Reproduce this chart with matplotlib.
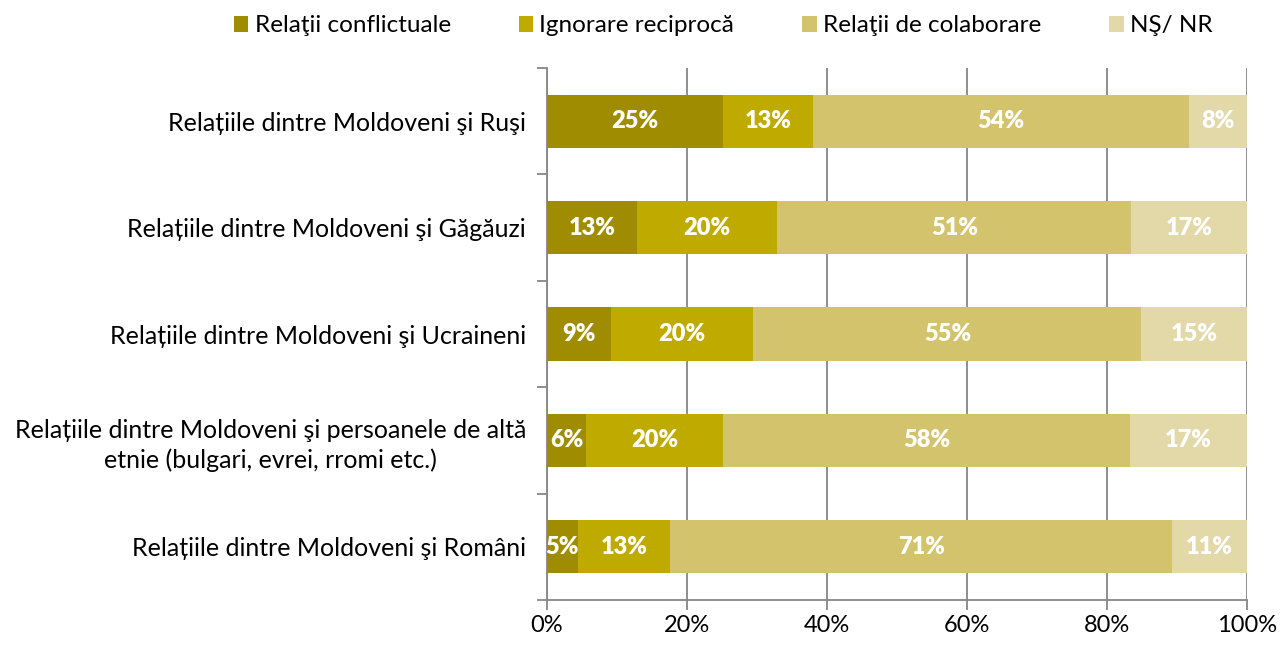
import numpy as np
import matplotlib.pyplot as plt
from matplotlib.ticker import MultipleLocator, PercentFormatter

plt.rcParams['font.family'] = ['Lato', 'DejaVu Sans']

# Categories, top to bottom
categories = [
    'Relațiile dintre Moldoveni şi Ruşi',
    'Relațiile dintre Moldoveni şi Găgăuzi',
    'Relațiile dintre Moldoveni şi Ucraineni',
    'Relațiile dintre Moldoveni şi persoanele de altă\netnie (bulgari, evrei, rromi etc.)',
    'Relațiile dintre Moldoveni şi Români',
]
series_names = ['Relaţii conflictuale', 'Ignorare reciprocă', 'Relaţii de colaborare', 'NŞ/ NR']

# shares (bar widths, normalised to 100)
conflict = [25.1, 12.9, 9.1, 5.6, 4.4]
ignore = [12.9, 20.0, 20.4, 19.6, 13.2]
collab = [53.7, 50.6, 55.4, 58.1, 71.7]
nsnr = [8.3, 16.5, 15.1, 16.7, 10.7]

# printed labels
conflict_lbl = [25, 13, 9, 6, 5]
ignore_lbl = [13, 20, 20, 20, 13]
collab_lbl = [54, 51, 55, 58, 71]
nsnr_lbl = [8, 17, 15, 17, 11]

colors = ['#A08C00', '#BFAA00', '#D3C36C', '#E2D8A8']

fig = plt.figure(figsize=(12.8, 6.49), dpi=100)
ax = fig.add_axes([0.4273, 0.0755, 0.5469, 0.8197])

y = np.arange(len(categories))
left = np.zeros(len(categories))
for vals, lbls, name, col in zip([conflict, ignore, collab, nsnr],
                                 [conflict_lbl, ignore_lbl, collab_lbl, nsnr_lbl],
                                 series_names, colors):
    vals = np.array(vals)
    ax.barh(y, vals, left=left, height=0.5, color=col, label=name, zorder=3)
    for yi, l, v, lb in zip(y, left, vals, lbls):
        ax.text(l + v / 2, yi, f'{lb}%', ha='center', va='center', color='white',
                fontsize=17, fontweight='heavy', zorder=4, clip_on=False)
    left = left + vals

ax.set_xlim(0, 100)
ax.set_ylim(len(categories) - 0.5, -0.5)
ax.set_yticks(y)
ax.set_yticklabels(categories, fontsize=18, linespacing=1.3)
for t in ax.get_yticklabels():
    t.set_multialignment('center')
ax.set_yticks(np.arange(-0.5, len(categories)), minor=True)
ax.tick_params(axis='y', which='major', length=0, pad=15)
ax.tick_params(axis='y', which='minor', length=7, color='#868686', width=1.3)

ax.xaxis.set_major_locator(MultipleLocator(20))
ax.xaxis.set_major_formatter(PercentFormatter(decimals=0))
ax.tick_params(axis='x', length=7, color='#868686', width=1.3, labelsize=17, pad=4)
ax.grid(axis='x', color='#868686', linewidth=1.3, zorder=0)

for s in ['top', 'right']:
    ax.spines[s].set_visible(False)
for s in ['left', 'bottom']:
    ax.spines[s].set_color('#868686')
    ax.spines[s].set_linewidth(1.3)

fig.legend(loc='upper center', bbox_to_anchor=(0.565, 1.01), ncol=4, frameon=False,
           fontsize=17.5, handlelength=0.6, handleheight=0.6, handletextpad=0.25,
           columnspacing=2.8)

fig.savefig('out.png', dpi=100)
